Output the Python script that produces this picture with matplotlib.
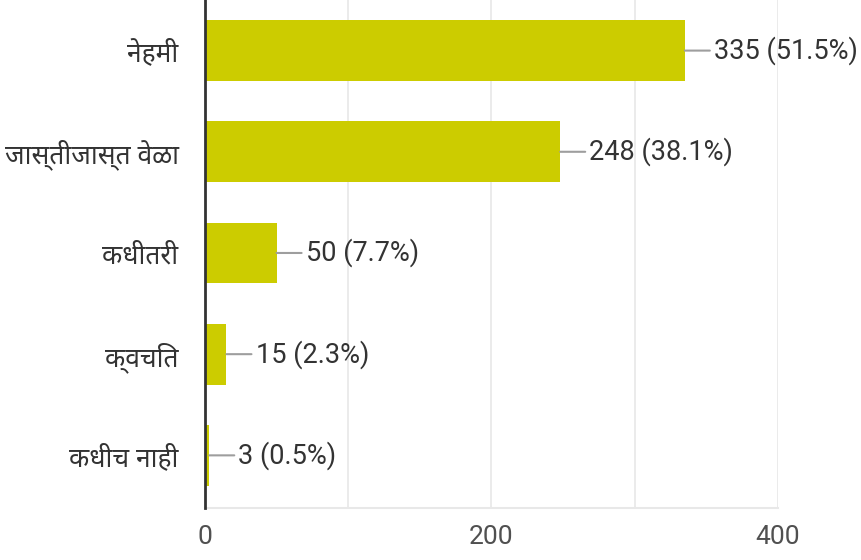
import matplotlib
matplotlib.use("Agg")
import matplotlib.pyplot as plt

categories = ["नेहमी", "जास्तीजास्त वेळा", "कधीतरी", "क्वचित", "कधीच नाही"]
counts = [335, 248, 50, 15, 3]
percents = [51.5, 38.1, 7.7, 2.3, 0.5]
xticks = [0, 200, 400]

plt.rcParams['font.family'] = ['Roboto', 'DejaVu Sans']

fig = plt.figure(figsize=(8.62, 5.6), dpi=100)
ax = fig.add_axes([0.2378, 0.0929, 0.6647, 0.9071])

ypos = list(range(len(categories)))
ax.barh(ypos, counts, height=0.6, color='#cccc00', zorder=2)

# value labels with short grey leader line
for y, c, p in zip(ypos, counts, percents):
    ax.annotate("%d (%.1f%%)" % (c, p), xy=(c, y), xytext=(21, 0),
                textcoords='offset points', va='center', ha='left',
                fontsize=19.5, color='#333333',
                arrowprops=dict(arrowstyle='-', color='#9e9e9e', lw=1.5,
                                shrinkA=1, shrinkB=0))

ax.set_xlim(0, 400)
ax.set_ylim(4.52, -0.5)
ax.set_yticks(ypos)
ax.set_yticklabels(categories, family=['Noto Sans Devanagari', 'Roboto'],
                   fontsize=19, color='#333333')
ax.set_xticks(xticks)
ax.set_xticks([100, 300], minor=True)
ax.set_xticklabels([str(t) for t in xticks], fontsize=19, color='#505050')
ax.tick_params(axis='y', length=0, pad=19)
ax.tick_params(axis='x', which='both', length=0, pad=12)
ax.grid(axis='x', which='both', color='#e8e8e8', lw=1.2, zorder=0)

for s in ['top', 'right']:
    ax.spines[s].set_visible(False)
ax.spines['bottom'].set_color('#e8e8e8')
ax.spines['bottom'].set_linewidth(1.5)
ax.spines['left'].set_color('#333333')
ax.spines['left'].set_linewidth(2)
ax.spines['left'].set_zorder(3)

fig.savefig("out.png")
